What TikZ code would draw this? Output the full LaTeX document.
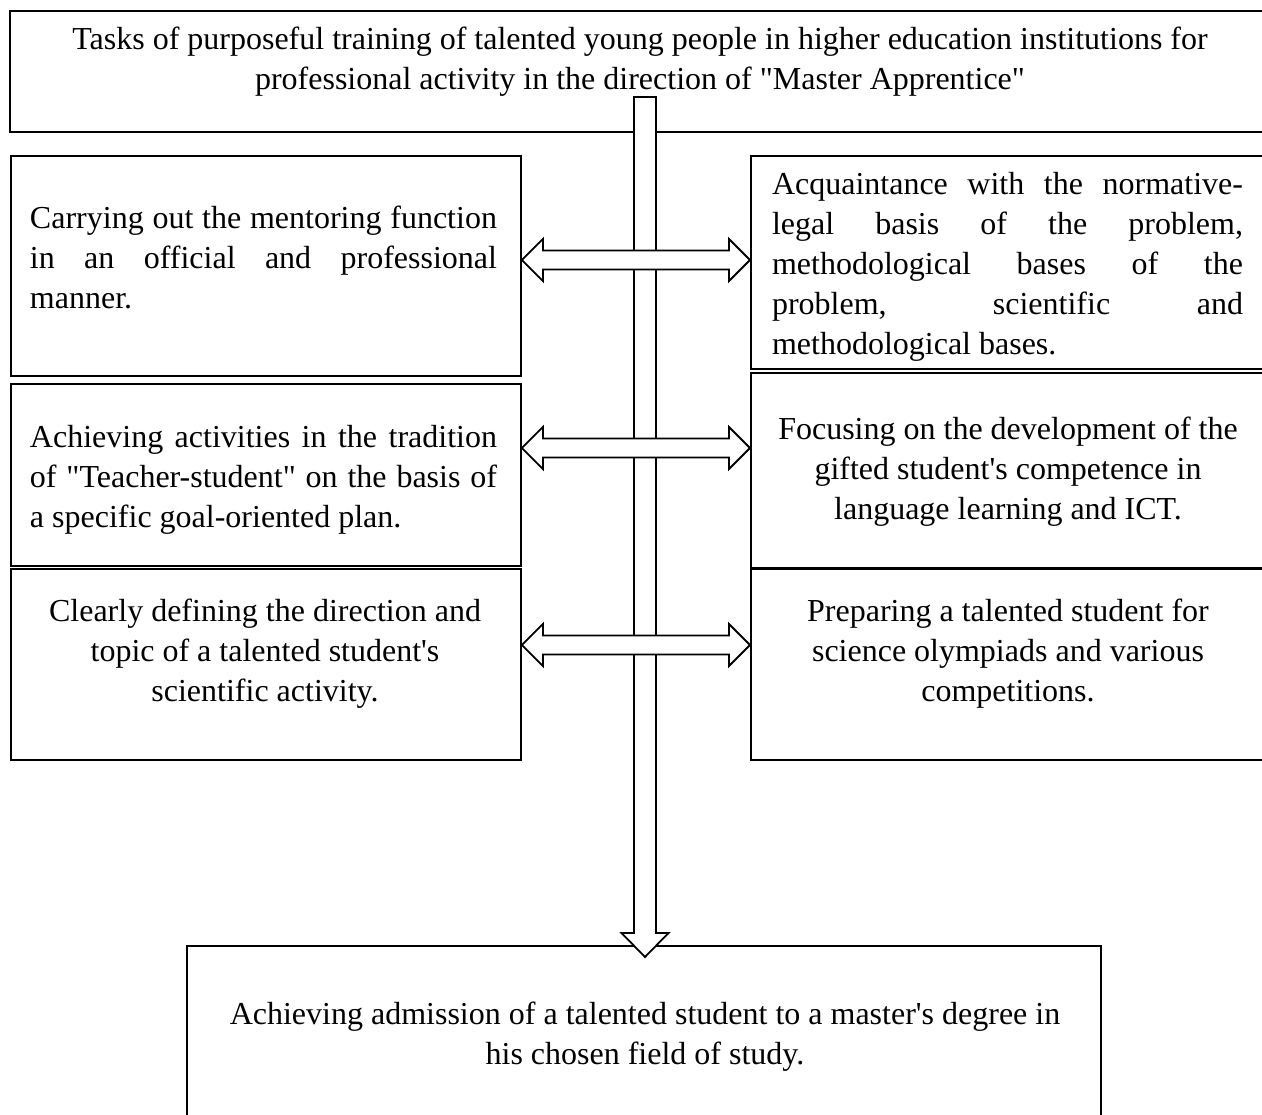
\documentclass[tikz,border=0pt]{standalone}
\usepackage{fontspec}
\newfontfamily\tnr{Liberation Serif}
\usetikzlibrary{calc}
\newcommand\dblarr[3]{%
  \coordinate (#3y) at (0,#3);
  \coordinate (#1pl) at (#1.east |- #3y);
  \coordinate (#1pr) at (#2.west |- #3y);
  \draw[arr] (#1pl) -- ($(#1pl)+(21,-21)$) -- ($(#1pl)+(21,-9.5)$) -- ($(#1pr)+(-21,-9.5)$) -- ($(#1pr)+(-21,-21)$) -- (#1pr) -- ($(#1pr)+(-21,21)$) -- ($(#1pr)+(-21,9.5)$) -- ($(#1pl)+(21,9.5)$) -- ($(#1pl)+(21,21)$) -- cycle;
}
\begin{document}
\begin{tikzpicture}[x=1pt,y=-1pt,
  box/.style={draw,line width=1.9pt,rectangle,inner sep=0pt,anchor=north west},
  txt/.style={font=\tnr\fontsize{32}{40}\selectfont,inner sep=0pt},
  arr/.style={draw,line width=1.8pt,fill=white,line join=miter}]
\useasboundingbox (0,0) rectangle (1262,1115);
\fill[white] (0,0) rectangle (1262,1115);
% boxes
\node[box,minimum width=1290pt,minimum height=121pt] (top) at (9,10) {};
\node[box,minimum width=510pt,minimum height=220pt] (L1) at (10,155) {};
\node[box,minimum width=510pt,minimum height=182pt] (L2) at (10,383) {};
\node[box,minimum width=510pt,minimum height=191pt] (L3) at (10,568) {};
\node[box,minimum width=600pt,minimum height=213pt] (R1) at (750,155) {};
\node[box,minimum width=600pt,minimum height=195pt] (R2) at (750,372) {};
\node[box,minimum width=600pt,minimum height=191pt] (R3) at (750,568) {};
\node[box,minimum width=914pt,minimum height=300pt] (bot) at (186,945) {};
% texts
\node[txt,align=center] (t0) at (640,62) {Tasks of purposeful training of talented young people in higher education institutions for\\professional activity in the direction of "Master Apprentice"};
\node[txt,text width=467pt,align=justify] (tL1) at (263.5,257) {Carrying out the mentoring function\linebreak in an official and professional\linebreak manner.};
\node[txt,text width=471pt,align=justify] (tR1) at (1007.5,267) {Acquaintance with the normative-\linebreak legal basis of the problem,\linebreak methodological bases of the\linebreak problem, scientific and\linebreak methodological bases.};
\node[txt,text width=467pt,align=justify] (tL2) at (263.5,480) {Achieving activities in the tradition\linebreak of "Teacher-student" on the basis of\linebreak a specific goal-oriented plan.};
\node[txt,align=center] (tR2) at (1008,472) {Focusing on the development of the\\gifted student's competence in\\language learning and ICT.};
\node[txt,align=center] (tL3) at (265,654) {Clearly defining the direction and\\topic of a talented student's\\scientific activity.};
\node[txt,align=center] (tR3) at (1008,654) {Preparing a talented student for\\science olympiads and various\\competitions.};
\node[txt,align=center] (tB) at (645,1037) {Achieving admission of a talented student to a master's degree in\\his chosen field of study.};
% vertical arrow
\coordinate (vs) at (645,97);
\coordinate (vt) at ($(vs |- bot.north)+(0,12)$);
\draw[arr] ($(vs)+(-11,0)$) -- ($(vt)+(-11,-24)$) -- ($(vt)+(-23.5,-24)$) -- (vt) -- ($(vt)+(23.5,-24)$) -- ($(vt)+(11,-24)$) -- ($(vs)+(11,0)$) -- cycle;
% double arrows
\dblarr{L1}{R1}{260}
\dblarr{L2}{R2}{448}
\dblarr{L3}{R3}{645}
\end{tikzpicture}
\end{document}
